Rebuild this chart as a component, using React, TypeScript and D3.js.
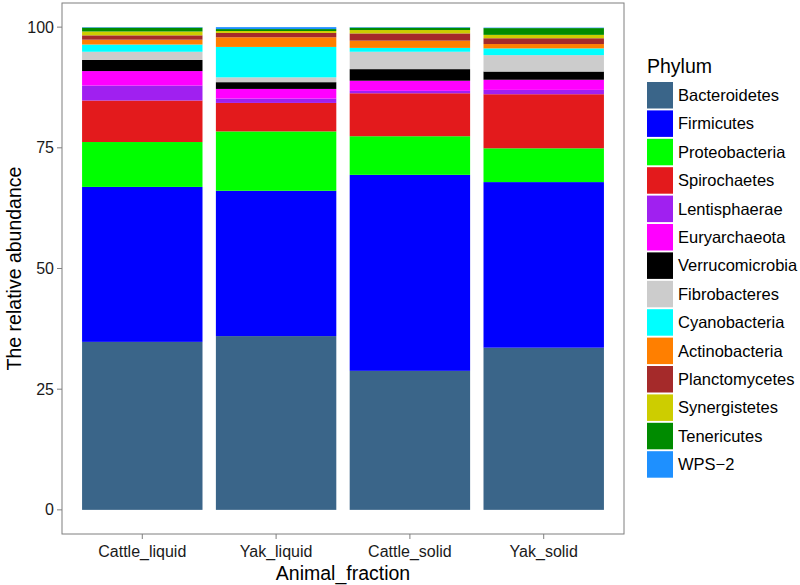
import React from 'react';
import * as d3 from 'd3';

// sample order on the x axis
const samples = ['Cattle_liquid', 'Yak_liquid', 'Cattle_solid', 'Yak_solid'];

// stacking order, bottom to top (also the legend order)
const phyla = [
  'Bacteroidetes', 'Firmicutes', 'Proteobacteria', 'Spirochaetes', 'Lentisphaerae',
  'Euryarchaeota', 'Verrucomicrobia', 'Fibrobacteres', 'Cyanobacteria', 'Actinobacteria',
  'Planctomycetes', 'Synergistetes', 'Tenericutes', 'WPS\u22122',
];

const phylumColors = [
  '#3a6589', '#0000ff', '#00ff00', '#e31a1c', '#a020f0',
  '#ff00ff', '#000000', '#cccccc', '#00ffff', '#ff7f00',
  '#a52a2a', '#cdcd00', '#008b00', '#1e90ff',
];

// relative abundance (%) per sample, same order as phyla
const cattleLiquid = [34.8, 32.1, 9.3, 8.6, 3.1, 3.0, 2.3, 1.7, 1.5, 1.0, 0.9, 0.8, 0.8, 0.1];
const yakLiquid = [36.0, 30.1, 12.3, 5.9, 0.9, 2.0, 1.4, 1.0, 6.3, 2.0, 0.9, 0.4, 0.4, 0.4];
const cattleSolid = [28.8, 40.6, 8.0, 8.9, 0.5, 2.1, 2.4, 3.6, 0.8, 1.5, 1.5, 0.7, 0.5, 0.1];
const yakSolid = [33.6, 34.3, 7.0, 11.2, 0.9, 2.1, 1.7, 3.4, 1.4, 0.9, 1.2, 0.7, 1.4, 0.1];

const yTicks = [0, 25, 50, 75, 100];

const font = '"Liberation Sans", Arial, sans-serif';

const App = () => {
  const W = 800;
  const H = 585;
  const panel = { left: 62, right: 624, top: 3, bottom: 534 };

  const rows = [cattleLiquid, yakLiquid, cattleSolid, yakSolid].map((vals, i) => {
    const row: Record<string, any> = { sample: samples[i] };
    phyla.forEach((p, j) => (row[p] = vals[j]));
    return row;
  });

  const series = d3.stack().keys(phyla)(rows as any);

  // discrete scale with ggplot's 0.6 expansion on each side
  const xPos = d3.scaleLinear().domain([0.4, samples.length + 0.6]).range([panel.left, panel.right]);
  const step = xPos(2) - xPos(1);
  const barW = step * 0.9;
  const y = d3.scaleLinear().domain([-5, 105]).range([panel.bottom, panel.top]);

  const color = d3.scaleOrdinal<string, string>().domain(phyla).range(phylumColors);

  const legendX = 647;
  const legendY = 82;
  const keyStep = 28.4;

  return (
    <svg width={W} height={H} style={{ position: 'fixed', left: 0, top: 0, background: '#fff' }} fontFamily={font}>
      <rect x={0} y={0} width={W} height={H} fill="#fff" />
      {series.map((s, si) => (
        <g key={s.key} fill={color(s.key)}>
          {s.map((d, i) => (
            <rect
              key={i}
              x={xPos(i + 1) - barW / 2}
              width={barW}
              y={y(d[1])}
              height={Math.max(0, y(d[0]) - y(d[1]))}
            />
          ))}
        </g>
      ))}

      <rect
        x={panel.left}
        y={panel.top}
        width={panel.right - panel.left}
        height={panel.bottom - panel.top}
        fill="none"
        stroke="#7f7f7f"
        strokeWidth={1}
      />

      {yTicks.map((t) => (
        <g key={t}>
          <line x1={panel.left - 5} x2={panel.left} y1={y(t)} y2={y(t)} stroke="#7f7f7f" />
          <text x={panel.left - 8} y={y(t)} dy="0.35em" textAnchor="end" fontSize={16} fill="#1a1a1a">
            {t}
          </text>
        </g>
      ))}

      {samples.map((s, i) => (
        <g key={s}>
          <line x1={xPos(i + 1)} x2={xPos(i + 1)} y1={panel.bottom} y2={panel.bottom + 5} stroke="#7f7f7f" />
          <text x={xPos(i + 1)} y={panel.bottom + 23} textAnchor="middle" fontSize={16} fill="#1a1a1a">
            {s}
          </text>
        </g>
      ))}

      <text x={(panel.left + panel.right) / 2} y={580} textAnchor="middle" fontSize={19.5} fill="#000">
        Animal_fraction
      </text>
      <text
        transform={`translate(21,${(panel.top + panel.bottom) / 2}) rotate(-90)`}
        textAnchor="middle"
        fontSize={19.5}
        fill="#000"
      >
        The relative abundance
      </text>

      <text x={legendX} y={73} fontSize={19.5} fill="#000">
        Phylum
      </text>
      {phyla.map((p, i) => (
        <g key={p} transform={`translate(${legendX},${legendY + i * keyStep})`}>
          <rect width={26} height={26.5} fill={color(p)} />
          <text x={31} y={13.3} dy="0.35em" fontSize={16.5} fill="#000">
            {p}
          </text>
        </g>
      ))}
    </svg>
  );
};

export default App;
